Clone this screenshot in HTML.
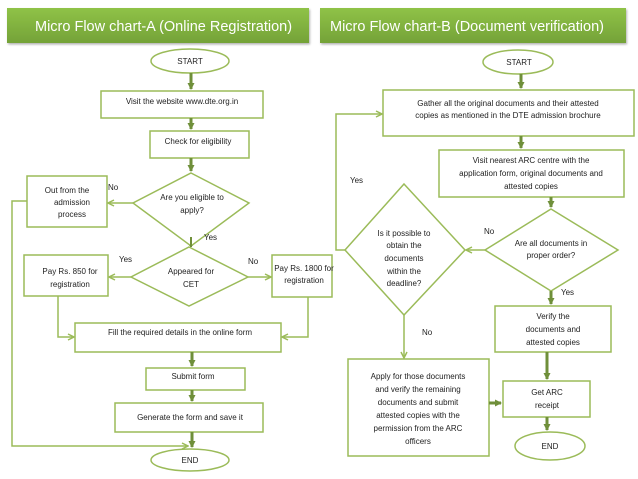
<!DOCTYPE html>
<html><head><meta charset="utf-8"><style>
html,body{margin:0;padding:0;background:#fff;}
svg{display:block;}
text{font-family:"Liberation Sans",sans-serif;fill:#222;font-size:8px;}
.h{fill:#fff;font-size:14.5px;}
</style></head><body>
<svg width="638" height="479" viewBox="0 0 638 479" xmlns="http://www.w3.org/2000/svg">
<defs>
<linearGradient id="g" x1="0" y1="0" x2="0" y2="1"><stop offset="0" stop-color="#8fc247"/><stop offset="1" stop-color="#74a238"/></linearGradient>
<filter id="s"><feDropShadow dx="1" dy="1.5" stdDeviation="1" flood-color="#000" flood-opacity="0.3"/></filter>
<marker id="a" markerWidth="8" markerHeight="8" refX="7" refY="4" orient="auto" markerUnits="userSpaceOnUse"><path d="M1,1 L7,4 L1,7" fill="none" stroke="#9bbb59" stroke-width="1.5"/></marker>
<marker id="b" markerWidth="8" markerHeight="8" refX="6" refY="4" orient="auto" markerUnits="userSpaceOnUse"><path d="M0,0.5 L7,4 L0,7.5Z" fill="#6f8f3a"/></marker>
</defs>
<rect x="7" y="8" width="302" height="35" fill="url(#g)" filter="url(#s)"/>
<rect x="320" y="8" width="306" height="35" fill="url(#g)" filter="url(#s)"/>
<text class="h" x="35" y="31">Micro Flow chart-A (Online Registration)</text>
<text class="h" x="330" y="31">Micro Flow chart-B (Document verification)</text>

<g fill="#fff" stroke="#9bbb59" stroke-width="1.5">
<ellipse cx="190" cy="61" rx="39" ry="12"/>
<rect x="101" y="91" width="162" height="27"/>
<rect x="150" y="131" width="99" height="27"/>
<polygon points="191,173 249,203 191,246 133,203"/>
<rect x="27" y="176" width="80" height="51"/>
<polygon points="189,247 248,277 189,306 131,277"/>
<rect x="24" y="255" width="84" height="41"/>
<rect x="272" y="255" width="60" height="42"/>
<rect x="75" y="323" width="206" height="29"/>
<rect x="146" y="368" width="99" height="22"/>
<rect x="115" y="403" width="148" height="29"/>
<ellipse cx="190" cy="460" rx="39" ry="11"/>

<ellipse cx="518" cy="62" rx="35" ry="12"/>
<rect x="383" y="90" width="251" height="46"/>
<rect x="439" y="150" width="185" height="47"/>
<polygon points="551,209 618,250 551,291 485,250"/>
<polygon points="404,184 465,250 404,315 345,250"/>
<rect x="495" y="306" width="116" height="46"/>
<rect x="503" y="381" width="87" height="36"/>
<rect x="348" y="359" width="141" height="97"/>
<ellipse cx="550" cy="446" rx="35" ry="14"/>
</g>

<g fill="none" stroke="#9bbb59" stroke-width="1.5">
<path d="M133,203 H108" marker-end="url(#a)"/>
<path d="M131,277 H109" marker-end="url(#a)"/>
<path d="M248,277 H271" marker-end="url(#a)"/>
<path d="M58,296 V337 H74" marker-end="url(#a)"/>
<path d="M308,297 V337 H282" marker-end="url(#a)"/>
<path d="M27,201 H12 V446 H188" marker-end="url(#a)"/>
<path d="M485,250 H466" marker-end="url(#a)"/>
<path d="M345,250 H336 V114 H382" marker-end="url(#a)"/>
<path d="M404,315 V358" marker-end="url(#a)"/>
</g>
<g fill="none" stroke="#6f8f3a" stroke-width="3">
<path d="M191,73 V89" marker-end="url(#b)"/>
<path d="M191,118 V129" marker-end="url(#b)"/>
<path d="M191,158 V171" marker-end="url(#b)"/>
<path d="M191,246 V245"/>
<path d="M191,237 V247" stroke-width="2"/>
<path d="M192,352 V366" marker-end="url(#b)"/>
<path d="M192,390 V401" marker-end="url(#b)"/>
<path d="M192,432 V447" marker-end="url(#b)"/>
<path d="M521,74 V88" marker-end="url(#b)"/>
<path d="M521,136 V148" marker-end="url(#b)"/>
<path d="M551,197 V207" marker-end="url(#b)"/>
<path d="M551,291 V304" marker-end="url(#b)"/>
<path d="M547,352 V379" marker-end="url(#b)"/>
<path d="M547,417 V430" marker-end="url(#b)"/>
<path d="M489,403 H501" marker-end="url(#b)"/>
</g>

<g text-anchor="middle">
<text x="190" y="64">START</text>
<text x="182" y="104">Visit the website www.dte.org.in</text>
<text x="198" y="144">Check for eligibility</text>
<text x="192" y="200">Are you eligible to</text>
<text x="192" y="213">apply?</text>
<text x="67" y="193" font-size="7.5">Out from the</text>
<text x="72" y="205" font-size="7.5">admission</text>
<text x="72" y="217" font-size="7.5">process</text>
<text x="191" y="274">Appeared for</text>
<text x="191" y="287">CET</text>
<text x="70" y="274">Pay Rs. 850  for</text>
<text x="70" y="287">registration</text>
<text x="304" y="271" font-size="7">Pay Rs. 1800  for</text>
<text x="304" y="283" font-size="7">registration</text>
<text x="180" y="335">Fill the required details in the online form</text>
<text x="193" y="379">Submit form</text>
<text x="190" y="420">Generate the form and save it</text>
<text x="190" y="463">END</text>

<text x="519" y="65">START</text>
<text x="508" y="106">Gather all the original documents and their attested</text>
<text x="508" y="118">copies as mentioned in the DTE admission brochure</text>
<text x="531" y="163">Visit nearest ARC centre with the</text>
<text x="531" y="176">application form, original documents and</text>
<text x="531" y="189">attested copies</text>
<text x="551" y="246">Are all documents in</text>
<text x="551" y="258">proper order?</text>
<text x="404" y="236">Is it possible to</text>
<text x="404" y="248">obtain the</text>
<text x="404" y="261">documents</text>
<text x="404" y="274">within the</text>
<text x="404" y="286">deadline?</text>
<text x="553" y="319">Verify the</text>
<text x="553" y="332">documents and</text>
<text x="553" y="345">attested copies</text>
<text x="547" y="395">Get ARC</text>
<text x="547" y="408">receipt</text>
<text x="418" y="379">Apply for those documents</text>
<text x="418" y="392">and verify the remaining</text>
<text x="418" y="405">documents and submit</text>
<text x="418" y="418">attested copies with the</text>
<text x="418" y="431">permission from the ARC</text>
<text x="418" y="444">officers</text>
<text x="550" y="449">END</text>
</g>
<text x="108" y="190">No</text>
<text x="204" y="240">Yes</text>
<text x="119" y="262">Yes</text>
<text x="248" y="264">No</text>
<text x="350" y="183">Yes</text>
<text x="484" y="234">No</text>
<text x="561" y="295">Yes</text>
<text x="422" y="335">No</text>
</svg>
</body></html>
